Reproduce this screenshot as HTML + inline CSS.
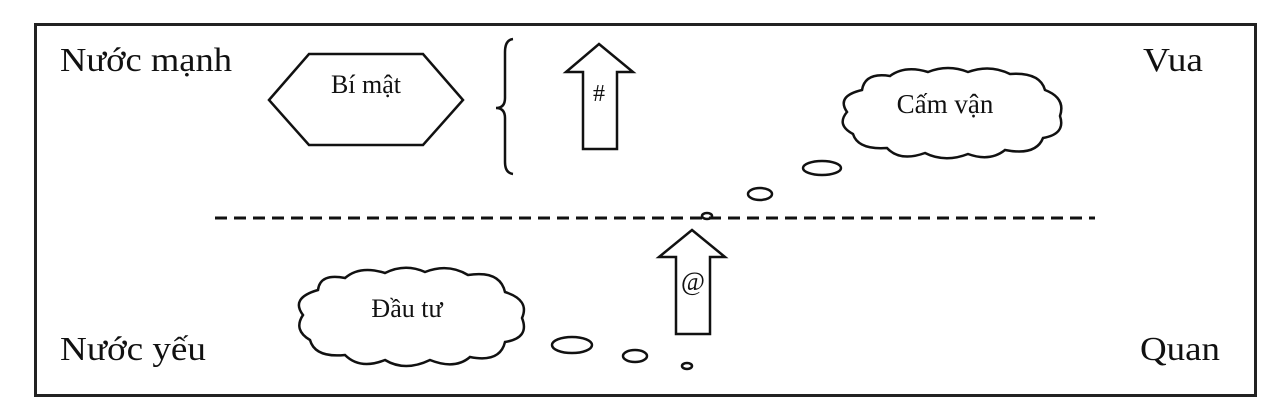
<!DOCTYPE html>
<html><head><meta charset="utf-8"><style>
html,body{margin:0;padding:0;background:#fff;width:1280px;height:419px;overflow:hidden}
svg{display:block}
text{font-family:"Liberation Serif",serif;fill:#111}
</style></head><body>
<svg width="1280" height="419" viewBox="0 0 1280 419" xmlns="http://www.w3.org/2000/svg">
<rect x="35.5" y="24.5" width="1220" height="371" fill="none" stroke="#222" stroke-width="3"/>
<text x="60" y="71" font-size="34" textLength="172" lengthAdjust="spacingAndGlyphs">Nước mạnh</text>
<text x="1143" y="71" font-size="34" textLength="60" lengthAdjust="spacingAndGlyphs">Vua</text>
<text x="60" y="360" font-size="34" textLength="146" lengthAdjust="spacingAndGlyphs">Nước yếu</text>
<text x="1140" y="360" font-size="34" textLength="80" lengthAdjust="spacingAndGlyphs">Quan</text>
<g fill="none" stroke="#111" stroke-width="2.5">
<polygon points="269,100 309,54 423,54 463,100 423,145 309,145"/>
<path d="M513,39 Q505,40 505,52 L505,98 Q505,108 496,108 Q505,108 505,118 L505,162 Q505,173 513,174"/>
<polygon points="599,44 633,72 617,72 617,149 583,149 583,72 566,72"/>
<polygon points="692,230 725,257 710,257 710,334 676,334 676,257 659,257"/>
<line x1="215" y1="218" x2="1095" y2="218" stroke-dasharray="12,7" stroke-width="3"/>
<ellipse cx="572" cy="345" rx="20" ry="8"/>
<ellipse cx="635" cy="356" rx="12" ry="6"/>
<ellipse cx="687" cy="366" rx="5" ry="3"/>
<ellipse cx="707" cy="216" rx="5" ry="3"/>
<ellipse cx="760" cy="194" rx="12" ry="6"/>
<ellipse cx="822" cy="168" rx="19" ry="7"/>
<path d="M318,290 Q320,273 345,278 Q360,265 385,273 Q405,263 425,272 Q448,263 468,275 Q500,270 505,292 Q530,300 522,318 Q530,338 505,342 Q500,363 470,357 Q455,370 430,360 Q405,372 385,360 Q360,370 345,355 Q315,358 310,340 Q293,330 303,315 Q290,298 318,290 Z"/>
<path d="M862,90 Q865,72 890,76 Q905,65 928,72 Q948,64 968,72 Q990,64 1010,74 Q1040,72 1045,90 Q1066,98 1060,116 Q1066,134 1043,138 Q1036,156 1005,150 Q990,162 968,154 Q945,163 925,153 Q900,162 887,148 Q858,150 853,134 Q836,125 847,112 Q836,96 862,90 Z"/>
</g>
<text x="366" y="93" font-size="26" text-anchor="middle">Bí mật</text>
<text x="599" y="101" font-size="24" text-anchor="middle">#</text>
<text x="693" y="290" font-size="26" text-anchor="middle" fill="#555">@</text>
<text x="407" y="317" font-size="26" text-anchor="middle">Đầu tư</text>
<text x="945" y="113" font-size="27" text-anchor="middle">Cấm vận</text>
</svg>
</body></html>
